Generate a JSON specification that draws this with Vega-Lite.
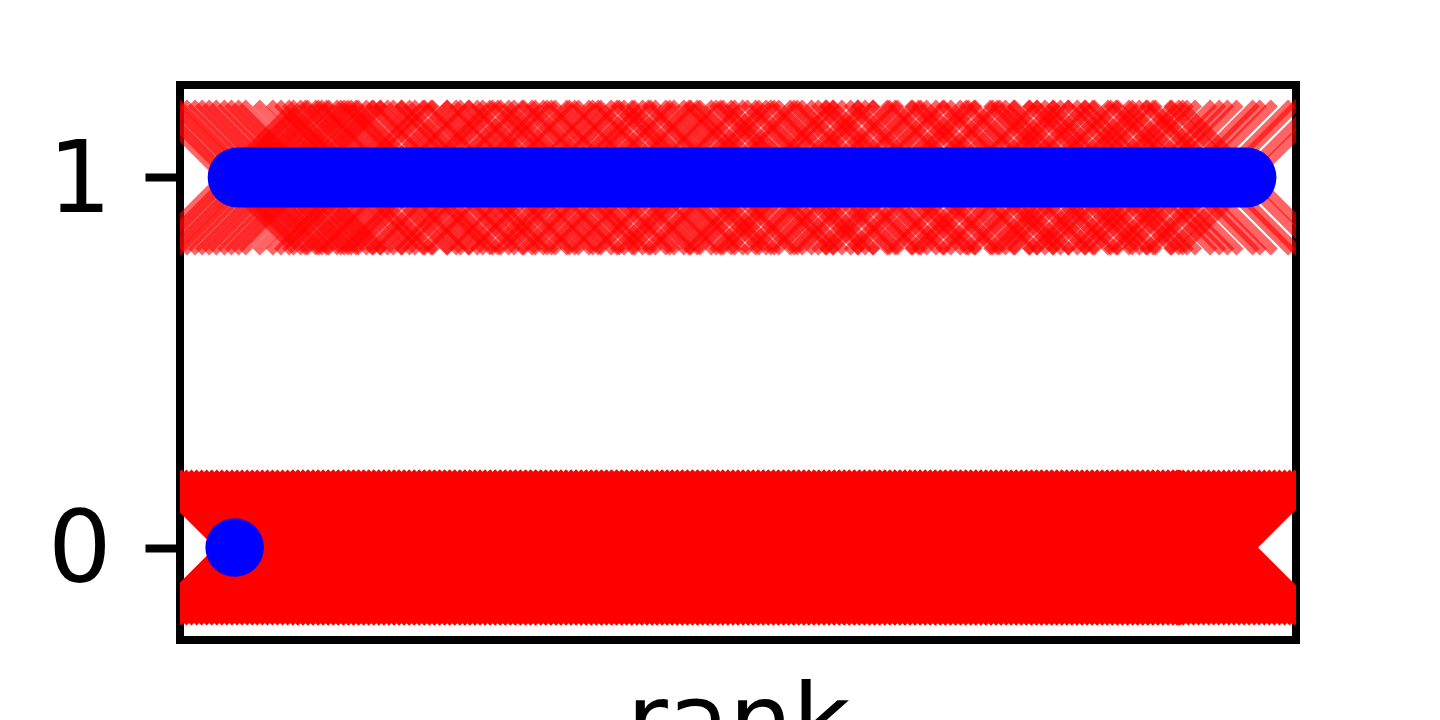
{
  "$schema": "https://vega.github.io/schema/vega-lite/v6.json",
  "autosize": "none",
  "width": 1116,
  "height": 555,
  "padding": {"left": 180, "top": 85, "right": 144, "bottom": 80},
  "background": "white",
  "config": {"view": {"stroke": "black", "strokeWidth": 8}},
  "datasets": {
    "truth0": [
      {"r": -1.25}, {"r": -0.75}, {"r": -0.25}, {"r": 0.25}, {"r": 0.75}, {"r": 1.25}, {"r": 1.75}, {"r": 2.25}, {"r": 2.75}, {"r": 3.25},
      {"r": 3.75}, {"r": 4.25}, {"r": 4.75}, {"r": 5.25}, {"r": 5.75}, {"r": 6.25}, {"r": 6.75}, {"r": 7.25}, {"r": 7.75}, {"r": 8.25},
      {"r": 8.75}, {"r": 9.25}, {"r": 9.75}, {"r": 10.25}, {"r": 10.75}, {"r": 11.25}, {"r": 11.75}, {"r": 12.25}, {"r": 12.75}, {"r": 13.25},
      {"r": 13.75}, {"r": 14.25}, {"r": 14.75}, {"r": 15.25}, {"r": 15.75}, {"r": 16.25}, {"r": 16.75}, {"r": 17.25}, {"r": 17.75}, {"r": 18.25},
      {"r": 18.75}, {"r": 19.25}, {"r": 19.75}, {"r": 20.25}, {"r": 20.75}, {"r": 21.25}, {"r": 21.75}, {"r": 22.25}, {"r": 22.75}, {"r": 23.25},
      {"r": 23.75}, {"r": 24.25}, {"r": 24.75}, {"r": 25.25}, {"r": 25.75}, {"r": 26.25}, {"r": 26.75}, {"r": 27.25}, {"r": 27.75}, {"r": 28.25},
      {"r": 28.75}, {"r": 29.25}, {"r": 29.75}, {"r": 30.25}, {"r": 30.75}, {"r": 31.25}, {"r": 31.75}, {"r": 32.25}, {"r": 32.75}, {"r": 33.25},
      {"r": 33.75}, {"r": 34.25}, {"r": 34.75}, {"r": 35.25}, {"r": 35.75}, {"r": 36.25}, {"r": 36.75}, {"r": 37.25}, {"r": 37.75}, {"r": 38.25},
      {"r": 38.75}, {"r": 39.25}, {"r": 39.75}, {"r": 40.25}, {"r": 40.75}, {"r": 41.25}, {"r": 41.75}, {"r": 42.25}, {"r": 42.75}, {"r": 43.25},
      {"r": 43.75}, {"r": 44.25}, {"r": 44.75}, {"r": 45.25}, {"r": 45.75}, {"r": 46.25}, {"r": 46.75}, {"r": 47.25}, {"r": 47.75}, {"r": 48.25},
      {"r": 48.75}, {"r": 49.25}, {"r": 49.75}, {"r": 50.25}, {"r": 50.75}, {"r": 51.25}, {"r": 51.75}, {"r": 52.25}, {"r": 52.75}, {"r": 53.25},
      {"r": 53.75}, {"r": 54.25}, {"r": 54.75}, {"r": 55.25}, {"r": 55.75}, {"r": 56.25}, {"r": 56.75}, {"r": 57.25}, {"r": 57.75}, {"r": 58.25},
      {"r": 58.75}, {"r": 59.25}, {"r": 59.75}, {"r": 60.25}, {"r": 60.75}, {"r": 61.25}, {"r": 61.75}, {"r": 62.25}, {"r": 62.75}, {"r": 63.25},
      {"r": 63.75}, {"r": 64.25}, {"r": 64.75}, {"r": 65.25}, {"r": 65.75}, {"r": 66.25}, {"r": 66.75}, {"r": 67.25}, {"r": 67.75}, {"r": 68.25},
      {"r": 68.75}, {"r": 69.25}, {"r": 69.75}, {"r": 70.25}, {"r": 70.75}, {"r": 71.25}, {"r": 71.75}, {"r": 72.25}, {"r": 72.75}, {"r": 73.25},
      {"r": 73.75}, {"r": 74.25}, {"r": 74.75}, {"r": 75.25}, {"r": 75.75}, {"r": 76.25}, {"r": 76.75}, {"r": 77.25}, {"r": 77.75}, {"r": 78.25},
      {"r": 78.75}, {"r": 79.25}, {"r": 79.75}, {"r": 80.25}, {"r": 80.75}, {"r": 81.25}, {"r": 81.75}, {"r": 82.25}, {"r": 82.75}, {"r": 83.25},
      {"r": 83.75}, {"r": 84.25}, {"r": 84.75}, {"r": 85.25}, {"r": 85.75}, {"r": 86.25}, {"r": 86.75}, {"r": 87.25}, {"r": 87.75}, {"r": 88.25},
      {"r": 88.75}, {"r": 89.25}, {"r": 89.75}, {"r": 90.25}, {"r": 90.75}, {"r": 91.25}, {"r": 91.75}, {"r": 92.25}, {"r": 92.75}, {"r": 93.25},
      {"r": 93.75}, {"r": 94.25}, {"r": 94.75}, {"r": 95.25}, {"r": 95.75}, {"r": 96.25}, {"r": 96.75}, {"r": 97.25}, {"r": 97.75}, {"r": 98.25},
      {"r": 98.75}, {"r": 99.25}, {"r": 99.75}, {"r": 100.15}, {"r": 100.45}
    ],
    "truth1": [
      {"r": -1.2}, {"r": -0.5}, {"r": 0.2}, {"r": 1.0}, {"r": 1.6}, {"r": 2.3}, {"r": 3.1}, {"r": 3.8}, {"r": 4.5}, {"r": 5.2}, {"r": 6.0}, {"r": 6.7}, {"r": 7.4}, {"r": 8.1},
      {"r": 9.5}, {"r": 10.8}, {"r": 11.6}, {"r": 12.4}, {"r": 14.0}, {"r": 15.3}, {"r": 16.1}, {"r": 17.5}, {"r": 18.2}, {"r": 19.0},
      {"r": 20.6}, {"r": 21.4}, {"r": 22.7}, {"r": 23.5}, {"r": 24.3}, {"r": 25.8}, {"r": 26.6}, {"r": 28.0}, {"r": 28.9}, {"r": 30.2},
      {"r": 31.0}, {"r": 32.5}, {"r": 33.3}, {"r": 34.1}, {"r": 35.6}, {"r": 36.4}, {"r": 37.9}, {"r": 38.7}, {"r": 40.1}, {"r": 41.0},
      {"r": 42.4}, {"r": 43.2}, {"r": 44.8}, {"r": 45.5}, {"r": 46.3}, {"r": 47.9}, {"r": 48.6}, {"r": 50.0}, {"r": 51.4}, {"r": 52.1},
      {"r": 53.0}, {"r": 54.6}, {"r": 55.3}, {"r": 56.1}, {"r": 57.7}, {"r": 58.5}, {"r": 60.0}, {"r": 60.8}, {"r": 62.3}, {"r": 63.1},
      {"r": 64.7}, {"r": 65.5}, {"r": 66.2}, {"r": 67.9}, {"r": 68.6}, {"r": 70.1}, {"r": 71.5}, {"r": 72.3}, {"r": 73.9}, {"r": 74.6},
      {"r": 75.4}, {"r": 77.0}, {"r": 77.8}, {"r": 79.3}, {"r": 80.1}, {"r": 81.7}, {"r": 82.4}, {"r": 83.2}, {"r": 84.0}, {"r": 85.6}, {"r": 86.3},
      {"r": 87.1}, {"r": 87.9}, {"r": 89.4}, {"r": 90.3}, {"r": 91.1}, {"r": 92.0}, {"r": 93.6}, {"r": 94.3}, {"r": 95.4}, {"r": 97.1}, {"r": 97.8}, {"r": 99.5}, {"r": 100.7}
    ],
    "pred": [{"r": 0.3, "v": 1}, {"r": 100, "v": 1}],
    "first": [{"r": 0, "v": 0}]
  },
  "encoding": {
    "x": {
      "field": "r", "type": "quantitative",
      "scale": {"domain": [-5.4, 104.9], "nice": false, "zero": false},
      "axis": {
        "title": "rank", "labels": false, "ticks": false, "domain": false, "grid": false,
        "titleFont": "DejaVu Sans", "titleFontSize": 100, "titleFontWeight": "normal",
        "titleColor": "black", "titlePadding": 35, "titleBaseline": "top"
      }
    }
  },
  "layer": [
    {
      "data": {"name": "truth0"},
      "mark": {
        "type": "point", "shape": "M-1,-1L1,1M1,-1L-1,1", "filled": false,
        "stroke": "#ff0000", "strokeWidth": 10, "strokeCap": "butt",
        "size": 22200, "opacity": 1, "clip": true
      },
      "encoding": {
        "y": {"datum": 0, "type": "quantitative"}
      }
    },
    {
      "data": {"name": "truth1"},
      "mark": {
        "type": "point", "shape": "M-1,-1L1,1M1,-1L-1,1", "filled": false,
        "stroke": "#ff0000", "strokeWidth": 10, "strokeCap": "butt",
        "size": 22200, "opacity": 0.6, "clip": true
      },
      "encoding": {
        "y": {"datum": 1, "type": "quantitative"}
      }
    },
    {
      "data": {"name": "pred"},
      "mark": {"type": "line", "color": "#0000ff", "strokeWidth": 60, "strokeCap": "round"},
      "encoding": {
        "y": {"field": "v", "type": "quantitative"}
      }
    },
    {
      "data": {"name": "first"},
      "mark": {"type": "point", "filled": true, "color": "#0000ff", "opacity": 1, "size": 3421, "shape": "circle"},
      "encoding": {
        "y": {
          "field": "v", "type": "quantitative",
          "scale": {"domain": [-0.25, 1.25], "nice": false, "zero": false},
          "axis": {
            "title": null, "values": [0, 1], "format": "d", "grid": false, "domain": false,
            "tickSize": 35, "tickWidth": 8, "tickColor": "black",
            "labelFont": "DejaVu Sans", "labelFontSize": 100, "labelColor": "black",
            "labelPadding": 34, "labelOffset": 4
          }
        }
      }
    }
  ]
}
